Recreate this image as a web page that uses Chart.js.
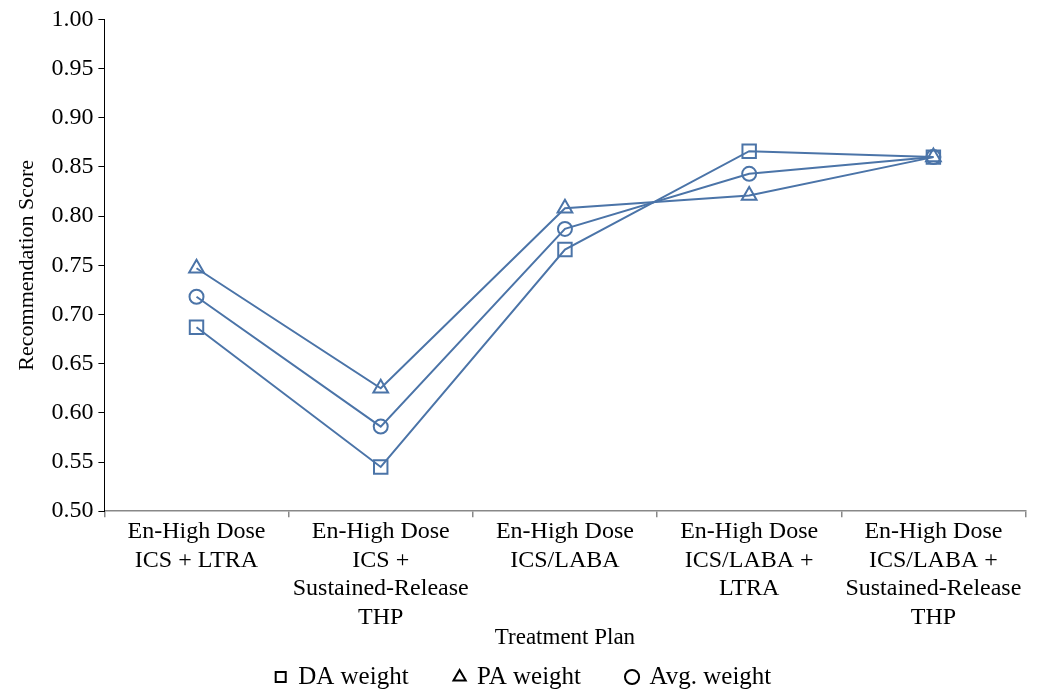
<!DOCTYPE html>
<html>
<head>
<meta charset="utf-8">
<script src="https://cdn.jsdelivr.net/npm/chart.js@4"></script>
<style>
  html, body { margin: 0; padding: 0; background: #fff; }
  #wrap { width: 1037px; height: 694px; }
</style>
</head>
<body>
<div id="wrap"><canvas id="c"></canvas></div>
<script>
// categories (multi-line tick labels)
const plans = [
  ['En-High Dose', 'ICS + LTRA'],
  ['En-High Dose', 'ICS +', 'Sustained-Release', 'THP'],
  ['En-High Dose', 'ICS/LABA'],
  ['En-High Dose', 'ICS/LABA +', 'LTRA'],
  ['En-High Dose', 'ICS/LABA +', 'Sustained-Release', 'THP']
];
const daWeight  = [0.687, 0.545, 0.766, 0.866, 0.860];
const paWeight  = [0.747, 0.625, 0.808, 0.821, 0.860];
const avgWeight = [0.718, 0.586, 0.787, 0.843, 0.860];

const blue = '#4b74a8';
const serif = "'Liberation Serif', 'DejaVu Serif', serif";
Chart.defaults.font.family = serif;
Chart.defaults.color = '#000';

const LEGEND_PAD = 46;
const LEGEND_FONT = 25;
const LEGEND_H = 40;

// wide horizontal gaps in the legend but not a tall box
const legendTighten = {
  id: 'legendTighten',
  beforeInit(chart) {
    const lg = chart.legend;
    const fit = lg.fit, draw = lg.draw;
    lg.fit = function () { fit.call(this); if (this.height > 0) this.height = LEGEND_H; };
    lg.draw = function () {
      // items sit at top + padding, so lift top for the draw only
      const top = this.top;
      this.top = top - (LEGEND_PAD + LEGEND_FONT / 2 - LEGEND_H / 2) + 3;
      draw.call(this);
      this.top = top;
    };
  }
};

new Chart(document.getElementById('c').getContext('2d'), {
  type: 'line',
  data: {
    labels: plans,
    datasets: [
      { label: 'DA weight', data: daWeight, pointStyle: 'rect', pointRadius: 9.5 },
      { label: 'PA weight', data: paWeight, pointStyle: 'triangle', pointRadius: 8.5 },
      { label: 'Avg. weight', data: avgWeight, pointStyle: 'circle', pointRadius: 7 }
    ].map(d => Object.assign(d, {
      borderColor: blue, borderWidth: 2, backgroundColor: 'rgba(255,255,255,0)',
      pointBorderColor: blue, pointBorderWidth: 2, pointBackgroundColor: 'rgba(255,255,255,0)',
      pointHoverRadius: d.pointRadius, tension: 0, fill: false
    }))
  },
  plugins: [legendTighten],
  options: {
    responsive: true, maintainAspectRatio: false, animation: false,
    layout: { padding: { left: 10, right: 0, top: 7, bottom: 0 } },
    scales: {
      x: {
        offset: true,
        grid: { display: true, drawOnChartArea: false, offset: true, tickLength: 6, color: '#888', lineWidth: 1.5 },
        border: { color: '#888', width: 1.5 },
        ticks: { font: { size: 24, lineHeight: 1.2 }, maxRotation: 0, autoSkip: false, padding: 0 },
        title: { display: true, text: 'Treatment Plan', font: { size: 23 }, padding: { top: -8, bottom: 2 } }
      },
      y: {
        min: 0.5, max: 1.0,
        grid: { display: true, drawOnChartArea: false, tickLength: 6, color: '#000' },
        border: { color: '#000', width: 1 },
        ticks: { stepSize: 0.05, font: { size: 24 }, padding: 5, callback: v => v.toFixed(2) },
        title: { display: true, text: 'Recommendation Score', font: { size: 22 }, padding: { bottom: 6 } }
      }
    },
    plugins: {
      legend: {
        position: 'bottom',
        labels: {
          usePointStyle: true, boxWidth: 10, boxHeight: 10, padding: LEGEND_PAD,
          font: { size: LEGEND_FONT }, color: '#000',
          generateLabels: chart => Chart.defaults.plugins.legend.labels.generateLabels(chart).map(l =>
            Object.assign(l, { strokeStyle: '#000', fillStyle: '#fff', lineWidth: 2 }))
        }
      },
      tooltip: { enabled: false }
    }
  }
});
</script>
</body>
</html>
